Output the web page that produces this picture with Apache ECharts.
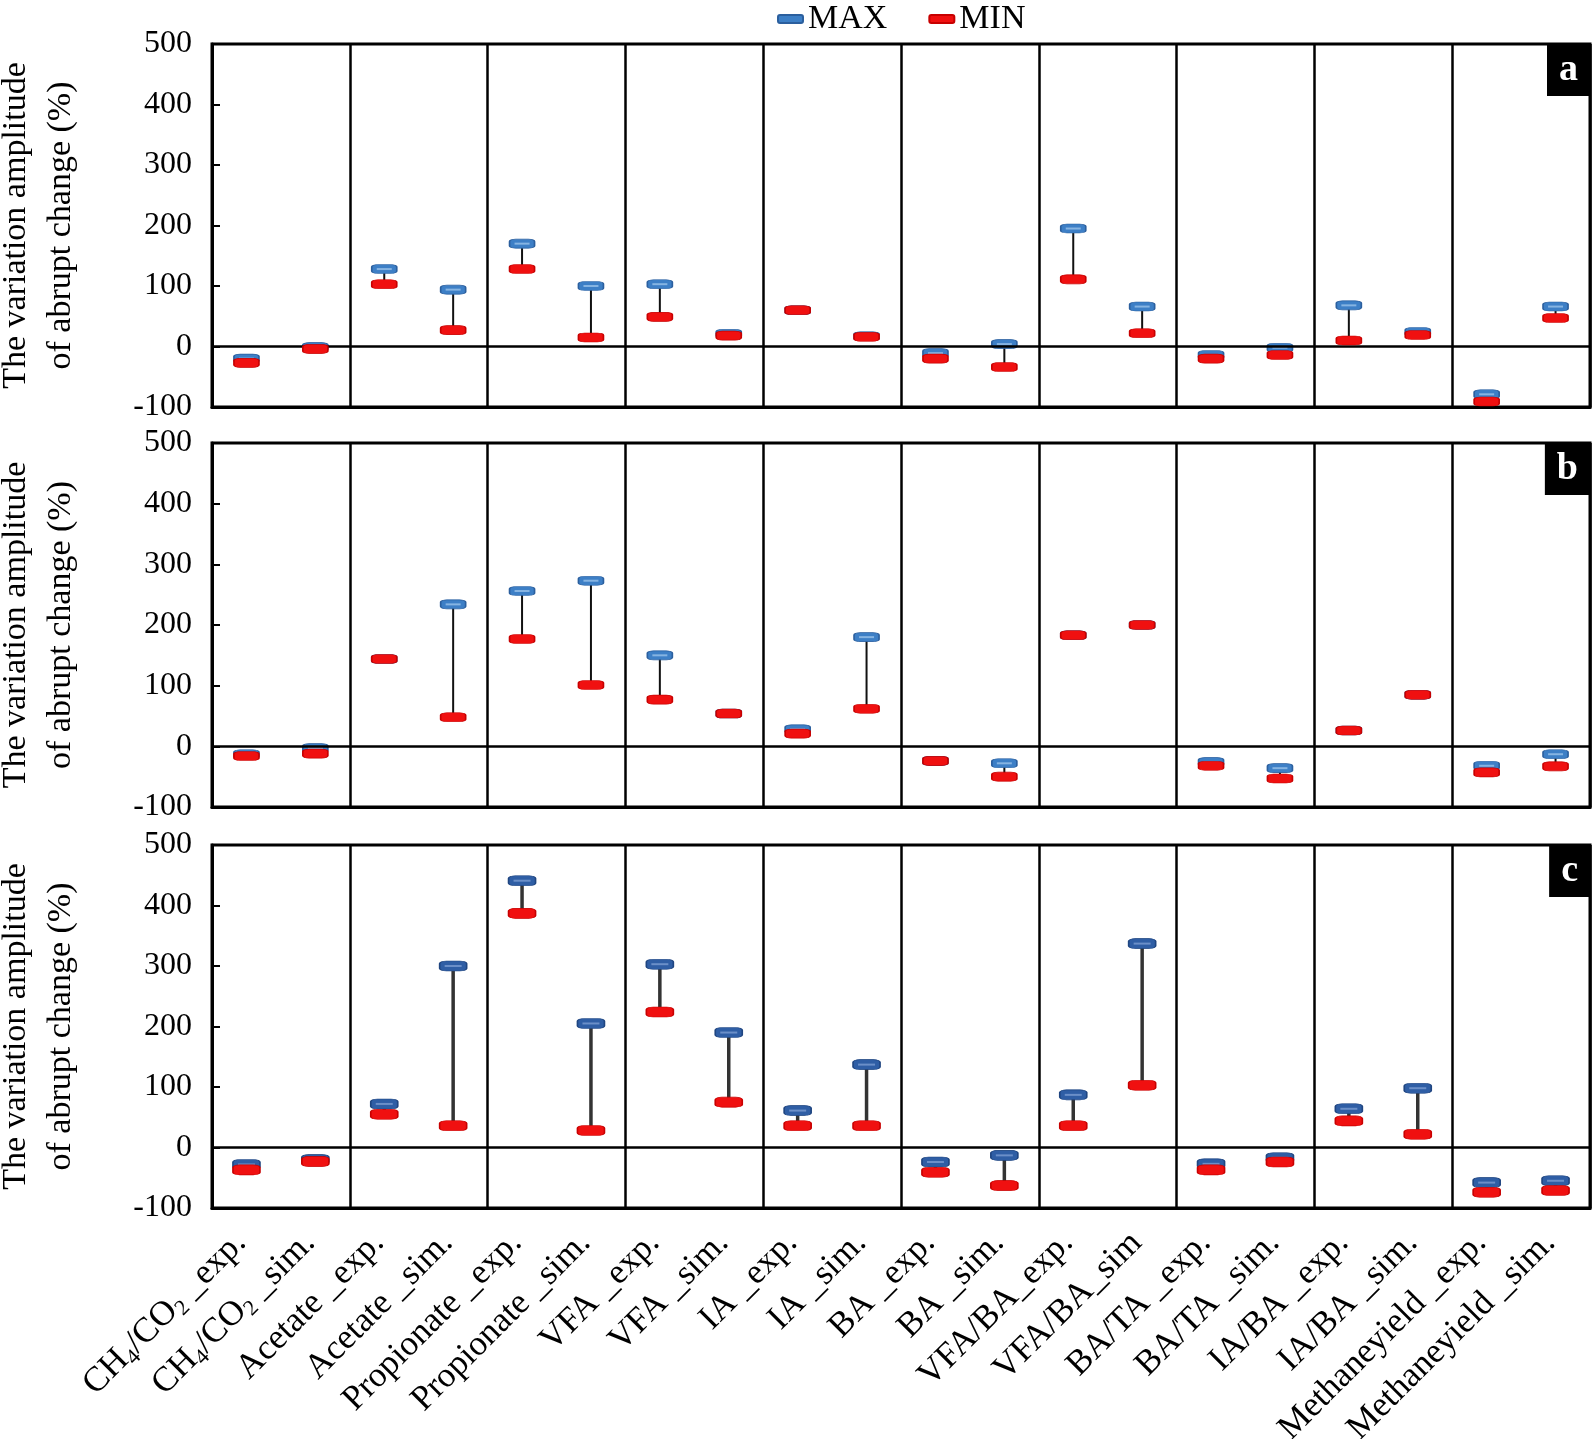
<!DOCTYPE html>
<html><head><meta charset="utf-8">
<script src="https://cdn.jsdelivr.net/npm/echarts@6/dist/echarts.min.js"></script>
<style>html,body{margin:0;padding:0;background:#fff}#chart{width:1595px;height:1439px}</style>
</head><body><div id="chart"></div>
<script>
const categories = ['CH4/CO2 _exp.', 'CH4/CO2 _sim.', 'Acetate _exp.', 'Acetate _sim.', 'Propionate _exp.', 'Propionate _sim.',
  'VFA _exp.', 'VFA _sim.', 'IA _exp.', 'IA _sim.', 'BA _exp.', 'BA _sim.', 'VFA/BA_exp.', 'VFA/BA_sim',
  'BA/TA _exp.', 'BA/TA _sim.', 'IA/BA _exp.', 'IA/BA _sim.', 'Methaneyield _exp.', 'Methaneyield _sim.'];
const panelLabels = ['a', 'b', 'c'];
const yTicks = {min: -100, max: 500, interval: 100};
const maxA = [-20, -1, 128, 94, 170, 100, 103, 21, 60, 17, -11, 4, 195, 66, -14, -2, 68, 24, -79, 66];
const minA = [-27, -4, 103, 27, 128, 15, 49, 18, 60, 16, -20, -34, 111, 22, -20, -14, 10, 19, -91, 47];
const maxB = [-13, -3, 144, 234, 256, 273, 150, 54, 28, 180, -24, -28, 183, 200, -26, -36, 26, 85, -32, -13];
const minB = [-16, -12, 144, 48, 177, 101, 77, 54, 21, 62, -24, -50, 183, 200, -32, -53, 26, 85, -43, -33];
const maxC = [-28, -20, 72, 300, 441, 205, 303, 190, 61, 137, -24, -13, 87, 337, -27, -17, 64, 98, -58, -55];
const minC = [-37, -23, 55, 36, 387, 28, 224, 75, 36, 36, -41, -63, 36, 103, -37, -24, 44, 22, -74, -71];

const FONT = '"Liberation Serif", "Times New Roman", serif';
const panels = [
  {max: maxA, min: minA, top: 44, height: 363, blue: '#3d7fc6', blueBorder: '#2b5f9e', stripe: '#86b4e2', whisker: '#111', ww: 2, size: [25, 9]},
  {max: maxB, min: minB, top: 443, height: 364, blue: '#3d7fc6', blueBorder: '#2b5f9e', stripe: '#86b4e2', whisker: '#111', ww: 2, size: [25, 9]},
  {max: maxC, min: minC, top: 845, height: 363, blue: '#2f5ea5', blueBorder: '#1f4580', stripe: '#6b8fc8', whisker: '#333', ww: 3.5, size: [27, 10]}
];

function labelFmt(v) {
  if (v.indexOf('CH4/CO2') === 0) {
    return '{n|CH}{s|4}{n|/CO}{s|2}{n|' + v.slice(7) + '}';
  }
  return '{n|' + v + '}';
}

const grids = [], xAxes = [], yAxes = [], series = [], titles = [];
panels.forEach((p, i) => {
  grids.push({left: 212, right: 5, top: p.top, height: p.height, show: true, borderColor: '#000', borderWidth: 3,
    containLabel: false, outerBoundsMode: 'none'});
  xAxes.push({
    gridIndex: i, type: 'category', data: categories, boundaryGap: true,
    axisLine: {show: true, onZero: false, lineStyle: {color: '#000', width: 3}},
    axisTick: {show: false},
    splitLine: {show: true, interval: (idx) => idx % 2 === 0, lineStyle: {color: '#000', width: 2.5}},
    axisLabel: {
      show: i === 2, interval: 0, rotate: 45, margin: 24, color: '#000', fontFamily: FONT,
      padding: [0, 8, 0, 0],
      formatter: labelFmt,
      rich: {
        n: {fontSize: 35, lineHeight: 40, verticalAlign: 'middle', fontFamily: FONT, color: '#000'},
        s: {fontSize: 22, lineHeight: 22, verticalAlign: 'bottom', fontFamily: FONT, color: '#000'}
      }
    }
  });
  yAxes.push({
    gridIndex: i, type: 'value', min: yTicks.min, max: yTicks.max, interval: yTicks.interval,
    axisLine: {show: true, lineStyle: {color: '#000', width: 3}},
    axisTick: {show: true, inside: true, length: 8, lineStyle: {color: '#000', width: 2}},
    axisLabel: {fontSize: 32, color: '#000', fontFamily: FONT, margin: 20},
    splitLine: {show: false},
    name: 'The variation amplitude\nof abrupt change (%)', nameLocation: 'middle', nameGap: 128, nameRotate: 90,
    nameTextStyle: {fontSize: 34, lineHeight: 45, color: '#000', fontFamily: FONT}
  });
  titles.push({
    text: panelLabels[i], right: 5, top: p.top + 1, backgroundColor: '#000', padding: [4, 12, 4, 12],
    textStyle: {color: '#fff', fontSize: 38, fontWeight: 'bold', lineHeight: 43, fontFamily: FONT}
  });
  const whiskerData = categories.map((c, k) => [k, p.max[k], p.min[k]]);
  series.push({
    type: 'custom', name: 'range' + i, xAxisIndex: i, yAxisIndex: i, silent: true, z: 2,
    data: whiskerData,
    renderItem: function (params, api) {
      const a = api.coord([api.value(0), api.value(1)]);
      const b = api.coord([api.value(0), api.value(2)]);
      return {type: 'line', shape: {x1: a[0], y1: a[1], x2: b[0], y2: b[1]},
        style: {stroke: p.whisker, lineWidth: p.ww}};
    }
  });
  series.push({
    type: 'scatter', name: 'MAX', xAxisIndex: i, yAxisIndex: i, z: 3,
    symbol: 'roundRect', symbolSize: p.size,
    itemStyle: {color: p.blue, borderColor: p.blueBorder, borderWidth: 1, opacity: 1},
    data: p.max.map((v, k) => [k, v]),
    markLine: {
      silent: true, symbol: ['none', 'none'], label: {show: false},
      lineStyle: {color: '#000', width: 2.5, type: 'solid'},
      data: [{yAxis: 0}]
    }
  });
  series.push({
    type: 'scatter', name: 'maxStripe' + i, xAxisIndex: i, yAxisIndex: i, z: 4, silent: true,
    symbol: 'rect', symbolSize: [p.size[0] - 10, 2],
    itemStyle: {color: p.stripe, opacity: 1},
    data: p.max.map((v, k) => [k, v])
  });
  series.push({
    type: 'scatter', name: 'MIN', xAxisIndex: i, yAxisIndex: i, z: 5,
    symbol: 'roundRect', symbolSize: p.size,
    itemStyle: {color: '#f01010', borderColor: '#c80000', borderWidth: 1, opacity: 1},
    data: p.min.map((v, k) => [k, v])
  });
});

const chart = echarts.init(document.getElementById('chart'));
chart.setOption({
  animation: false,
  backgroundColor: '#fff',
  title: titles,
  legend: {
    data: [{name: 'MAX', icon: 'roundRect'}, {name: 'MIN', icon: 'roundRect'}],
    left: 772, top: -3, itemWidth: 25, itemHeight: 8, itemGap: 41,
    textStyle: {fontSize: 34, color: '#000', fontFamily: FONT}
  },
  grid: grids, xAxis: xAxes, yAxis: yAxes, series: series
});
</script></body></html>
